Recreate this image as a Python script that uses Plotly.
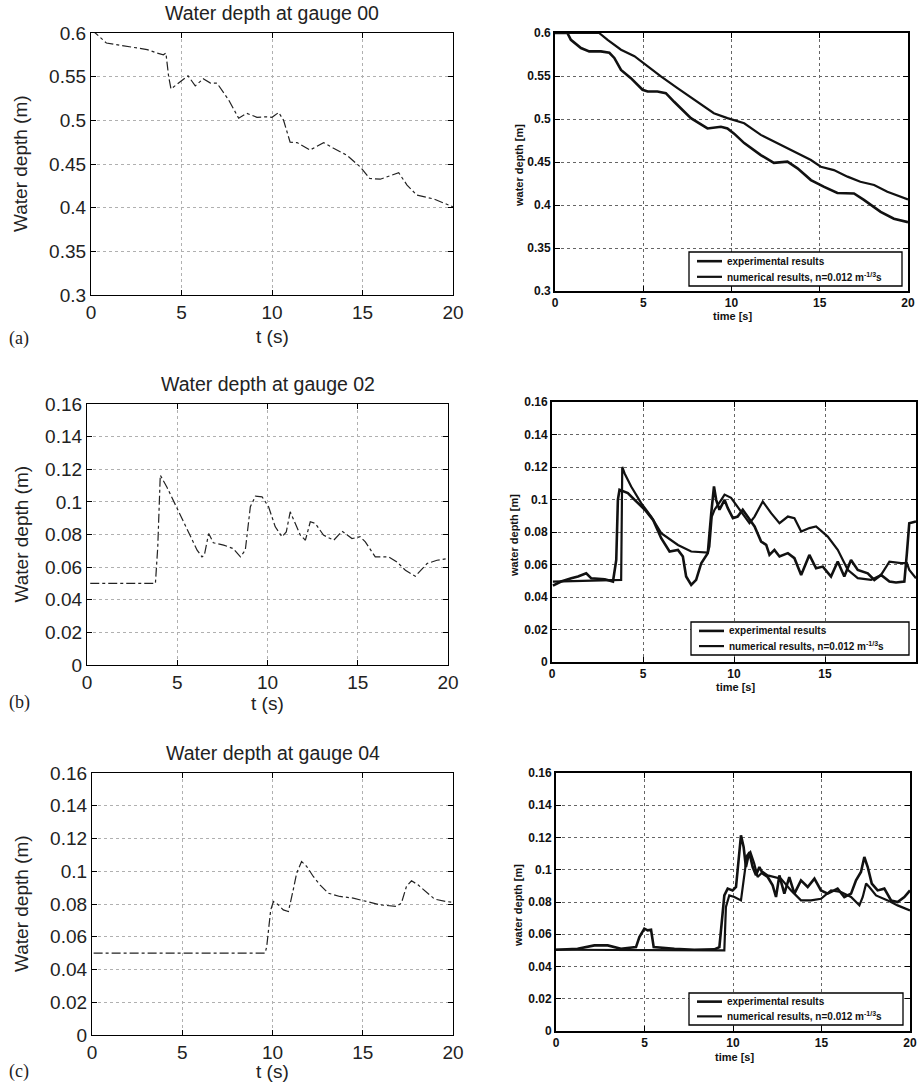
import plotly.graph_objects as go

# ---------------- data ----------------
# (a) gauge 00, computed (left)
t_a_sim = [0.0, 0.24, 0.85, 1.44, 2.36, 3.1, 3.65, 4.0, 4.14, 4.29, 4.42, 4.93, 5.36, 5.76, 6.2, 6.6, 6.96,
           7.6, 8.16, 8.6, 9.17, 9.72, 10.0, 10.37, 10.64, 11.0, 11.38, 12.1, 12.85, 13.4, 14.14, 14.88,
           15.4, 15.98, 16.35, 17.0, 17.46, 18.0, 18.93, 19.48, 20.0]
h_a_sim = [0.603, 0.600, 0.5885, 0.5866, 0.583, 0.581, 0.577, 0.575, 0.577, 0.550, 0.536, 0.5445, 0.551,
           0.5395, 0.5476, 0.5426, 0.5426, 0.5235, 0.5024, 0.508, 0.5035, 0.504, 0.5035, 0.509, 0.500,
           0.475, 0.4745, 0.466, 0.4745, 0.468, 0.460, 0.4466, 0.4334, 0.4326, 0.4353, 0.440, 0.4259,
           0.4144, 0.410, 0.405, 0.401]

# (a) gauge 00, published comparison (right)
t_a_exp = [0.0, 0.7, 0.9, 1.47, 1.94, 2.6, 3.08, 3.36, 3.74, 4.3, 4.96, 5.25, 5.8, 6.28, 6.75, 7.7, 8.64,
           9.4, 9.77, 10.15, 10.72, 11.66, 12.4, 13.17, 13.74, 14.5, 15.25, 16.0, 16.94, 17.5, 18.45,
           19.2, 20.0]
h_a_exp = [0.600, 0.600, 0.592, 0.5825, 0.5786, 0.5786, 0.577, 0.571, 0.557, 0.5475, 0.534, 0.532, 0.532,
           0.530, 0.520, 0.501, 0.489, 0.491, 0.489, 0.483, 0.472, 0.458, 0.449, 0.4504, 0.4426, 0.429,
           0.421, 0.414, 0.4134, 0.406, 0.392, 0.384, 0.380]
t_a_num = [0.0, 2.5, 2.98, 3.74, 4.5, 5.25, 6.0, 6.94, 7.89, 9.0, 9.77, 10.72, 11.66, 12.6, 13.55, 14.5,
           15.06, 15.8, 16.57, 17.3, 18.08, 18.83, 20.0]
h_a_num = [0.600, 0.600, 0.592, 0.5806, 0.573, 0.561, 0.5495, 0.536, 0.522, 0.5067, 0.501, 0.495, 0.4815,
           0.4717, 0.462, 0.4523, 0.4445, 0.4406, 0.433, 0.427, 0.4232, 0.4154, 0.4065]

# (b) gauge 02, computed (left)
t_b_sim = [0.18, 3.79, 3.92, 4.06, 4.43, 4.99, 5.63, 6.1, 6.37, 6.5, 6.74, 7.0, 7.57, 8.1, 8.5, 8.77, 9.05,
           9.33, 9.7, 10.06, 10.43, 10.8, 11.04, 11.26, 11.54, 11.82, 12.1, 12.37, 12.65, 13.1, 13.67,
           14.13, 14.68, 15.14, 15.42, 15.97, 16.71, 17.17, 17.64, 18.19, 18.84, 19.39, 20.0]
h_b_sim = [0.050, 0.050, 0.0724, 0.1164, 0.109, 0.096, 0.0806, 0.0704, 0.0663, 0.0673, 0.0806, 0.0749,
           0.0735, 0.0714, 0.0663, 0.0704, 0.097, 0.1035, 0.1031, 0.097, 0.0847, 0.0786, 0.0816, 0.0939,
           0.0868, 0.0796, 0.0765, 0.0878, 0.0868, 0.0796, 0.0765, 0.082, 0.0775, 0.0786, 0.0755, 0.0663,
           0.0663, 0.0632, 0.0581, 0.0544, 0.0622, 0.0642, 0.0653]

# (b) gauge 02, published comparison (right)
t_b_exp = [0.05, 0.5, 1.06, 1.43, 1.88, 2.16, 2.9, 3.35, 3.53, 3.62, 3.71, 3.99, 4.17, 4.54, 5.1, 5.55, 6.0,
           6.46, 6.92, 7.19, 7.37, 7.65, 7.92, 8.2, 8.56, 8.75, 8.9, 9.02, 9.2, 9.48, 9.66, 9.94, 10.2,
           10.48, 10.76, 11.13, 11.49, 11.77, 11.95, 12.22, 12.5, 12.96, 13.32, 13.69, 14.14, 14.51,
           14.88, 15.33, 15.7, 16.06, 16.43, 16.8, 17.35, 17.71, 18.08, 18.54, 18.9, 19.36, 19.5, 19.63,
           20.0]
h_b_exp = [0.047, 0.0495, 0.0515, 0.0526, 0.0546, 0.0515, 0.0509, 0.0495, 0.0628, 0.0998, 0.106, 0.105,
           0.104, 0.0998, 0.0937, 0.0875, 0.0762, 0.068, 0.069, 0.0649, 0.0526, 0.0474, 0.0505, 0.0608,
           0.067, 0.0916, 0.108, 0.0998, 0.0937, 0.0998, 0.0947, 0.0885, 0.0895, 0.0937, 0.0895, 0.0834,
           0.0741, 0.0721, 0.0659, 0.069, 0.0649, 0.067, 0.0639, 0.0536, 0.0659, 0.0577, 0.0587, 0.0526,
           0.0618, 0.0526, 0.0628, 0.0567, 0.0546, 0.0505, 0.0536, 0.0495, 0.0489, 0.0495, 0.067, 0.0854,
           0.0865]
t_b_num = [0.05, 3.44, 3.8, 3.86, 3.99, 4.35, 4.9, 5.45, 6.0, 6.92, 7.65, 8.56, 8.65, 8.78, 8.93, 9.3, 9.48,
           9.84, 10.2, 10.58, 10.85, 11.13, 11.58, 12.04, 12.5, 12.96, 13.32, 13.69, 14.14, 14.51, 15.15,
           15.7, 16.25, 16.8, 17.53, 18.08, 18.54, 19.18, 19.5, 19.63, 20.0]
h_b_num = [0.0495, 0.0505, 0.0505, 0.120, 0.116, 0.108, 0.0978, 0.0895, 0.0793, 0.072, 0.068, 0.0674,
           0.071, 0.0895, 0.0937, 0.0998, 0.103, 0.101, 0.0957, 0.0895, 0.0854, 0.0895, 0.0988, 0.0916,
           0.0854, 0.0895, 0.0885, 0.0803, 0.0824, 0.0834, 0.0772, 0.069, 0.0567, 0.0516, 0.0505, 0.0536,
           0.0618, 0.0608, 0.0608, 0.0567, 0.0515]

# (c) gauge 04, computed (left)
t_c_sim = [0.09, 9.59, 9.68, 9.9, 10.05, 10.32, 10.6, 10.88, 11.15, 11.34, 11.61, 11.89, 12.26, 12.63,
           13.09, 13.73, 14.47, 15.2, 15.94, 16.87, 17.14, 17.42, 17.7, 18.06, 18.52, 18.98, 19.63, 20.0]
h_c_sim = [0.050, 0.050, 0.054, 0.0764, 0.0815, 0.0795, 0.0764, 0.0754, 0.0887, 0.0989, 0.106, 0.103,
           0.0968, 0.0917, 0.0866, 0.0846, 0.0836, 0.0815, 0.0795, 0.0785, 0.0805, 0.0907, 0.0942, 0.0917,
           0.0876, 0.083, 0.0815, 0.081]

# (c) gauge 04, published comparison (right)
t_c_exp = [0.0, 1.22, 2.17, 2.92, 3.67, 4.52, 4.71, 4.99, 5.18, 5.37, 5.52, 5.93, 6.69, 7.81, 8.94, 9.23,
           9.36, 9.51, 9.7, 9.98, 10.17, 10.36, 10.45, 10.6, 10.73, 10.92, 11.11, 11.3, 11.49, 11.68,
           11.96, 12.24, 12.43, 12.62, 12.9, 13.18, 13.47, 13.84, 14.22, 14.6, 14.97, 15.35, 15.91, 16.29,
           16.67, 16.95, 17.23, 17.42, 17.61, 17.84, 18.17, 18.55, 18.93, 19.3, 19.68, 20.0]
h_c_exp = [0.0504, 0.051, 0.0531, 0.0531, 0.051, 0.052, 0.0583, 0.0635, 0.0624, 0.0628, 0.052, 0.0515,
           0.051, 0.0504, 0.0506, 0.052, 0.0686, 0.0841, 0.0883, 0.0872, 0.0893, 0.110, 0.1213, 0.1141,
           0.1017, 0.111, 0.1017, 0.0965, 0.1017, 0.0976, 0.0955, 0.0903, 0.0831, 0.0965, 0.0852, 0.0955,
           0.0852, 0.0934, 0.0893, 0.0945, 0.0872, 0.0852, 0.0883, 0.0831, 0.0852, 0.0934, 0.0986, 0.1079,
           0.1017, 0.0914, 0.0872, 0.0883, 0.081, 0.080, 0.0831, 0.0872]
t_c_num = [0.0, 9.51, 9.6, 9.79, 10.08, 10.45, 10.6, 10.79, 10.98, 11.2, 11.39, 11.68, 11.96, 12.34, 12.71,
           13.28, 13.84, 14.41, 14.97, 15.54, 16.1, 16.67, 17.14, 17.33, 17.52, 17.7, 18.08, 18.74, 19.3,
           20.0]
h_c_num = [0.0504, 0.050, 0.0769, 0.0841, 0.0831, 0.081, 0.0934, 0.1089, 0.111, 0.1038, 0.0955, 0.0986,
           0.0965, 0.0955, 0.0945, 0.0872, 0.081, 0.081, 0.082, 0.0872, 0.0862, 0.0831, 0.0779, 0.0831,
           0.0914, 0.0893, 0.0841, 0.081, 0.0779, 0.0748]

titles = ["Water depth at gauge 00", "Water depth at gauge 02", "Water depth at gauge 04"]
panel_labels = ["(a)", "(b)", "(c)"]
legend_names = ["experimental results", "numerical results, n=0.012 m<sup>-1/3</sup>s"]
x_ticks = [0, 5, 10, 15, 20]
y_ticks_a = [0.3, 0.35, 0.4, 0.45, 0.5, 0.55, 0.6]
y_ticks_bc = [0, 0.02, 0.04, 0.06, 0.08, 0.1, 0.12, 0.14, 0.16]

# ---------------- layout geometry ----------------
W, H = 922, 1084
def dx(a, b):
    return [a / W, b / W]
def dy(top, bottom):
    return [1 - bottom / H, 1 - top / H]

# pixel boxes: (left, right, top, bottom)
boxes = {
    1: (91, 453, 33, 295),
    2: (555, 908, 33, 291),
    3: (87, 448, 404, 665),
    4: (552, 916, 402, 662),
    5: (92, 453, 773, 1035),
    6: (556, 910, 773, 1031),
}
# legend boxes (left, right, top, bottom) for the right panels
legend_boxes = {2: (689, 902, 252, 286), 4: (691, 909, 622, 655), 6: (689, 903, 993, 1025)}

fig = go.Figure()

SANS = "Liberation Sans, Arial, Helvetica, sans-serif"
left_font = dict(family=SANS, size=19, color="#222222")
right_font = dict(family=SANS, size=12, color="#111111", weight="bold")

def ax_name(i, kind):
    return kind if i == 1 else f"{kind}{i}"

def add_line(i, x, y, **kw):
    fig.add_trace(go.Scatter(x=x, y=y, mode="lines",
                             xaxis="x" if i == 1 else f"x{i}",
                             yaxis="y" if i == 1 else f"y{i}", **kw))

# left panels: computed
for i, (tx, hy) in zip([1, 3, 5], [(t_a_sim, h_a_sim), (t_b_sim, h_b_sim), (t_c_sim, h_c_sim)]):
    add_line(i, tx, hy, line=dict(color="#222222", width=1.2, dash="dashdot"), showlegend=False)

# right panels: comparison
right_data = {2: (t_a_exp, h_a_exp, t_a_num, h_a_num),
              4: (t_b_exp, h_b_exp, t_b_num, h_b_num),
              6: (t_c_exp, h_c_exp, t_c_num, h_c_num)}
widths = [2.6, 2.2]
for i, (te, he, tn, hn) in right_data.items():
    add_line(i, te, he, name=legend_names[0], line=dict(color="#111111", width=widths[0]), showlegend=False)
    add_line(i, tn, hn, name=legend_names[1], line=dict(color="#111111", width=widths[1]), showlegend=False)

layout = dict(width=W, height=H, margin=dict(l=0, r=0, t=0, b=0), showlegend=False,
              paper_bgcolor="white", plot_bgcolor="white", annotations=[], shapes=[])

for i, (l, r, t, b) in boxes.items():
    left = i in (1, 3, 5)
    yticks = y_ticks_a if i in (1, 2) else y_ticks_bc
    yr = [0.3, 0.6] if i in (1, 2) else [0, 0.16]
    common = dict(showline=True, linecolor="black", linewidth=1.3 if left else 1.8,
                  mirror="ticks", ticks="inside", ticklen=5, tickcolor="black",
                  showgrid=True, gridcolor="#b0b0b0" if left else "#666666",
                  griddash="dot", gridwidth=1, zeroline=False, automargin=False,
                  tickfont=left_font if left else right_font)
    layout[ax_name(i, "xaxis")] = dict(domain=dx(l, r), range=[0, 20], tickvals=x_ticks,
                                       anchor="y" if i == 1 else f"y{i}", **common)
    layout[ax_name(i, "yaxis")] = dict(domain=dy(t, b), range=yr, tickvals=yticks,
                                       anchor="x" if i == 1 else f"x{i}", **common)

ann = layout["annotations"]
shapes = layout["shapes"]
def text(x, y, s, font, angle=0, xanchor="center"):
    ann.append(dict(x=x / W, y=1 - y / H, xref="paper", yref="paper", text=s, showarrow=False,
                    font=font, textangle=angle, xanchor=xanchor, yanchor="middle"))

title_font = dict(family=SANS, size=19.5, color="#222222")
label_font = dict(family=SANS, size=19, color="#222222")
# left titles & axis labels
for (l, r, t, b), title, xlab_y, lab_y, lab in zip(
        [boxes[1], boxes[3], boxes[5]], titles, [336, 703, 1071], [338, 702, 1071], panel_labels):
    cx = (l + r) / 2
    text(cx, t - 20, title, title_font)
    text(cx, xlab_y, "t (s)", label_font)
    text(21, (t + b) / 2, "Water depth (m)", label_font, angle=-90)
    text(19, lab_y, lab, dict(family="Liberation Serif, Times New Roman, serif", size=18, color="#222222"))

# right axis labels
small_bold = dict(family=SANS, size=11, color="#111111", weight="bold")
for (l, r, t, b), xl_y, yl_x in zip([boxes[2], boxes[4], boxes[6]], [316, 687, 1057], [519, 514, 518]):
    text((l + r) / 2 + 1, xl_y, "time [s]", small_bold)
    text(yl_x, (t + b) / 2 + 4, "water depth [m]", small_bold, angle=-90)

# legend boxes for the right panels
leg_font = dict(family=SANS, size=10, color="#111111", weight="bold")
for i, (l, r, t, b) in legend_boxes.items():
    shapes.append(dict(type="rect", xref="paper", yref="paper", x0=l / W, x1=r / W,
                       y0=1 - b / H, y1=1 - t / H, line=dict(color="black", width=1.3),
                       fillcolor="white", layer="above"))
    rows = [t + (b - t) * 0.27, t + (b - t) * 0.73]
    for k, ry in enumerate(rows):
        shapes.append(dict(type="line", xref="paper", yref="paper", x0=(l + 8) / W, x1=(l + 33) / W,
                           y0=1 - ry / H, y1=1 - ry / H,
                           line=dict(color="#111111", width=widths[k]), layer="above"))
        text(l + 36, ry, legend_names[k], leg_font, xanchor="left")

fig.update_layout(**layout)
fig.write_html("out.html", config={"displayModeBar": False},
               post_script="document.body.style.margin='0';document.body.style.padding='0';"
                           "document.body.style.overflow='hidden';")
